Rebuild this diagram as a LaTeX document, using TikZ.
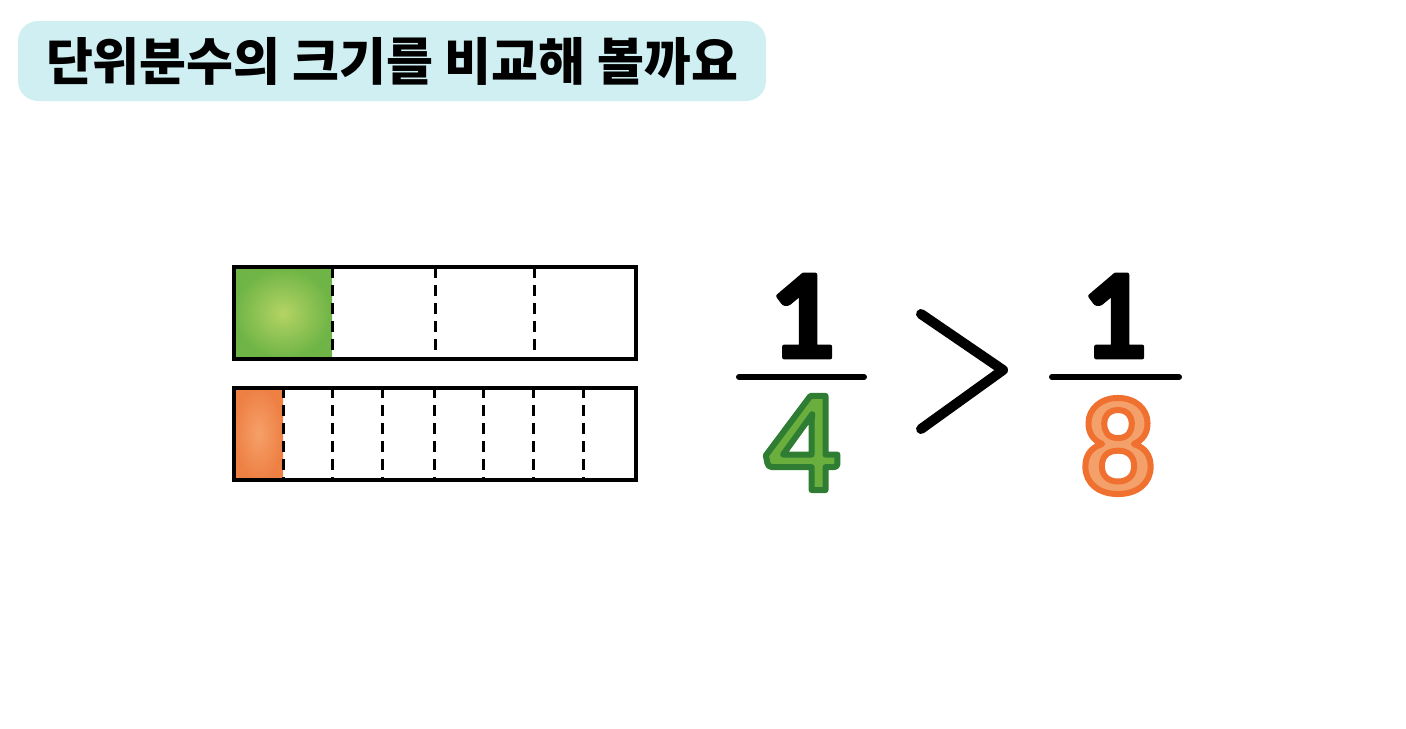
\documentclass[tikz,border=0pt]{standalone}
\usepackage{fontspec}
\newfontfamily\krfont{Noto Sans CJK KR}
\newfontfamily\numfont{Lato}
\definecolor{titlebg}{RGB}{207,239,242}
\definecolor{quartergreen}{RGB}{110,180,70}
\definecolor{quarterlight}{RGB}{180,212,100}
\definecolor{fourfill}{RGB}{106,174,62}
\definecolor{eighthorange}{RGB}{238,128,68}
\definecolor{eighthlight}{RGB}{245,160,105}
\definecolor{eightfill}{RGB}{244,160,106}
% outlined digit: fill colour, stroke colour as rgb numbers, stroke width, digit
\newcommand{\outlinedigit}[4]{{\color{#1}\special{pdf:code 2 Tr 1 j #3 w #2 RG}#4\special{pdf:code 0 Tr}}}
\begin{document}
\begin{tikzpicture}[
    x=0.5pt, y=-0.5pt,
    title/.style={rectangle, rounded corners=10pt, fill=titlebg, minimum width=374pt, minimum height=40pt, font=\krfont\bfseries\fontsize{25.5}{28}\selectfont},
    bar/.style={rectangle, draw, line width=2pt, minimum width=201pt, minimum height=46pt},
    divider/.style={line width=1.5pt, dash pattern=on 5.5pt off 3.5pt},
    num/.style={font=\numfont\bfseries\fontsize{57}{60}\selectfont, inner sep=0pt},
    denom/.style={font=\numfont\bfseries\fontsize{65}{70}\selectfont, inner sep=0pt},
    fracline/.style={line width=3pt, line cap=round}
]
\useasboundingbox (0,0) rectangle (1406,728);

% Title
\node[title] (head) at (392,61) {단위분수의 크기를 비교해 볼까요};

% Shaded parts
\shade[inner color=quarterlight, outer color=quartergreen] (234,267) rectangle (332,359);
\shade[inner color=eighthlight, outer color=eighthorange] (234,387) rectangle (283,480);

% Bars
\node[bar] (bar4) at (435,313) {};
\node[bar] (bar8) at (435,433.5) {};

% Quarters
\draw[divider] (332,267) -- (332,359);
\draw[divider] (435,267) -- (435,359);
\draw[divider] (534,267) -- (534,359);

% Eighths
\draw[divider] (283,387) -- (283,480);
\draw[divider] (332,387) -- (332,480);
\draw[divider] (382,387) -- (382,480);
\draw[divider] (434,387) -- (434,480);
\draw[divider] (483,387) -- (483,480);
\draw[divider] (533,387) -- (533,480);
\draw[divider] (583,387) -- (583,480);

% 1/4
\node[num] (numA) at (804,316) {\outlinedigit{black}{0 0 0}{2.2}{1}};
\draw[fracline] (739,377) -- (864,377);
\node[denom] (denA) at (803,443) {\outlinedigit{fourfill}{0.18 0.49 0.2}{3}{4}};

% Comparison sign
\draw[line width=5pt, line cap=round, line join=round] (921,314) -- (1003,370) -- (921,429);

% 1/8
\node[num] (numB) at (1116,316) {\outlinedigit{black}{0 0 0}{2.2}{1}};
\draw[fracline] (1052,377) -- (1179,377);
\node[denom] (denB) at (1118,446) {\outlinedigit{eightfill}{0.94 0.44 0.19}{3}{8}};
\end{tikzpicture}
\end{document}
